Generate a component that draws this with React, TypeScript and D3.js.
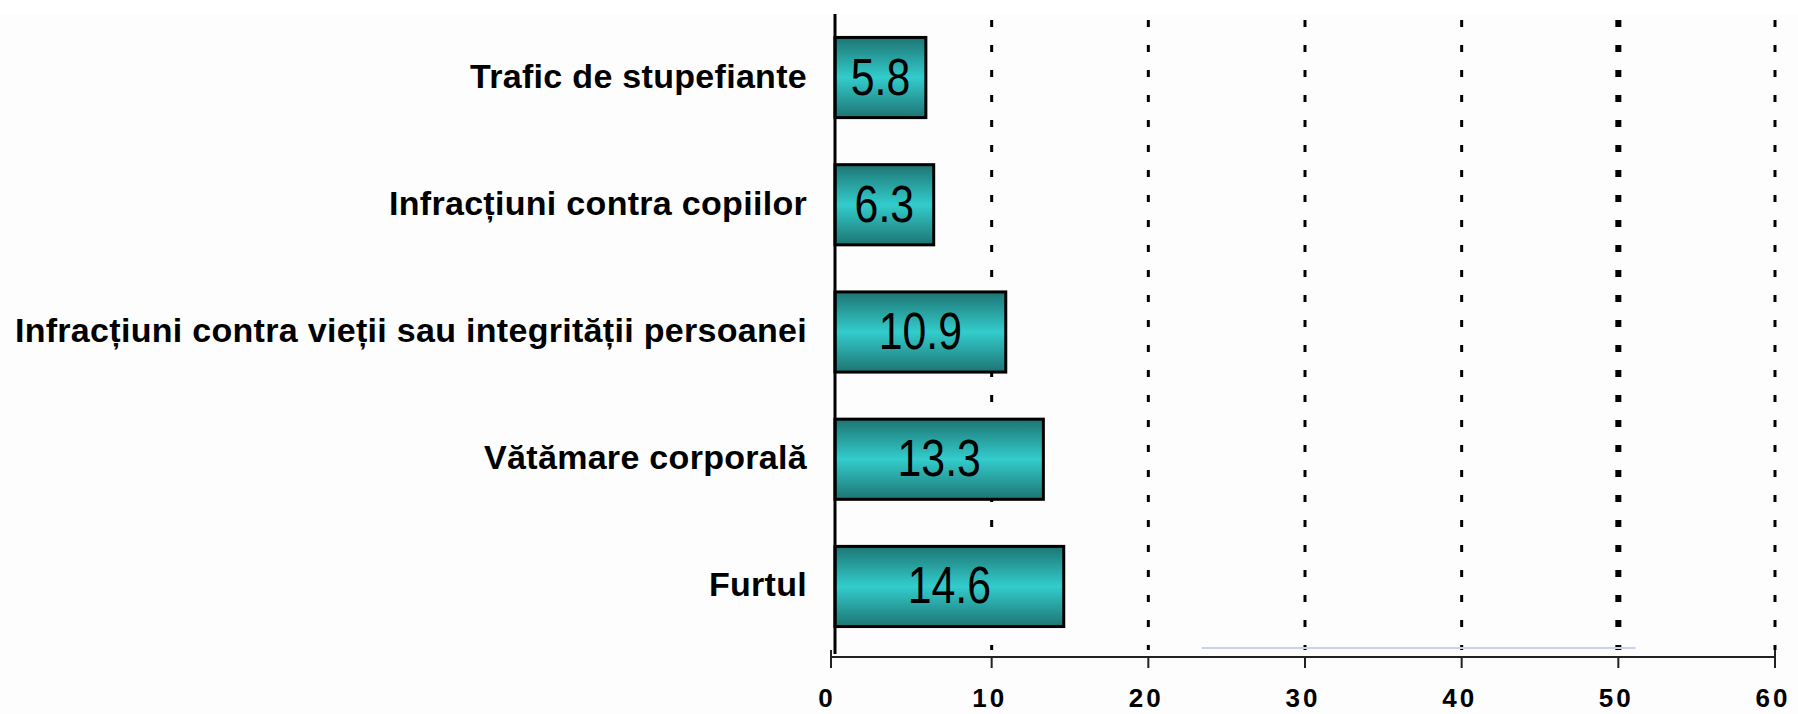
import React from 'react';
import * as d3 from 'd3';

const categories = [
    'Trafic de stupefiante',
    'Infracțiuni contra copiilor',
    'Infracțiuni contra vieții sau integrității persoanei',
    'Vătămare corporală',
    'Furtul',
];
const values = [5.8, 6.3, 10.9, 13.3, 14.6];
const xTicks = [0, 10, 20, 30, 40, 50, 60];
const gridValues = [10, 20, 30, 40, 50, 60];
// faint blue stroke that sits just above the axis in the original image
const blueStroke = [23.4, 51.1];

const width = 1798;
const height = 714;

const App: React.FC = () => {
    const x = d3.scaleLinear().domain([0, 60]).range([835, 1775]);
    const y = d3.scaleBand<string>()
        .domain(categories)
        .range([12, 652])
        .paddingInner(0.37)
        .paddingOuter(0.2);

    const axisY = 657;
    const barH = y.bandwidth();

    return (
        <>
            <style>{`body{margin:0;background:#fff}`}</style>
            <svg width={width} height={height} viewBox={`0 0 ${width} ${height}`} style={{ display: 'block' }}>
                <defs>
                    <linearGradient id="barGrad" x1="0" y1="0" x2="0" y2="1">
                        <stop offset="0%" stopColor="#1d7573" />
                        <stop offset="50%" stopColor="#33cccc" />
                        <stop offset="100%" stopColor="#1d7573" />
                    </linearGradient>
                </defs>
                <rect x={0} y={14} width={width} height={height - 14} fill="#fdfdfd" />

                {gridValues.map(v => (
                    <line key={v}
                        x1={x(v)} x2={x(v)} y1={20} y2={650}
                        stroke="#000"
                        strokeWidth={v === 50 ? 6 : 3}
                        strokeDasharray="7,18" />
                ))}

                <line x1={x(blueStroke[0])} x2={x(blueStroke[1])} y1={648} y2={648}
                    stroke="#c8d4ec" strokeWidth={2} />

                {categories.map((c, i) => {
                    const cx = (x(0) + x(values[i])) / 2;
                    const cy = y(c)! + barH / 2;
                    return (
                        <g key={c}>
                            <rect
                                x={x(0)}
                                y={y(c)!}
                                width={x(values[i]) - x(0)}
                                height={barH}
                                fill="url(#barGrad)"
                                stroke="#000"
                                strokeWidth={3} />
                            <text
                                transform={`translate(${cx},${cy + 17}) scale(0.84,1)`}
                                textAnchor="middle"
                                fontFamily="'Liberation Sans', Arial, sans-serif"
                                fontSize={51}
                                fill="#000">
                                {values[i]}
                            </text>
                            <text
                                x={807}
                                y={cy + 10}
                                textAnchor="end"
                                fontFamily="'Liberation Sans', Arial, sans-serif"
                                fontWeight="bold"
                                fontSize={34}
                                letterSpacing={0.3}
                                fill="#000">
                                {c}
                            </text>
                        </g>
                    );
                })}

                {/* y axis */}
                <line x1={x(0)} x2={x(0)} y1={14} y2={654} stroke="#000" strokeWidth={3} />

                {/* x axis */}
                <line x1={x(0) - 4} x2={x(60)} y1={axisY} y2={axisY} stroke="#222" strokeWidth={2} />
                {xTicks.map(t => (
                    <g key={t}>
                        <line x1={x(t) - (t === 0 ? 4 : 0)} x2={x(t) - (t === 0 ? 4 : 0)}
                            y1={t === 0 || t === 60 ? 650 : axisY} y2={668}
                            stroke="#222" strokeWidth={2} />
                        <text
                            x={x(t) - (t === 0 ? 8 : 2)}
                            y={707}
                            textAnchor="middle"
                            fontFamily="'Liberation Sans', Arial, sans-serif"
                            fontWeight="bold"
                            fontSize={26}
                            letterSpacing={3}
                            fill="#000">
                            {t}
                        </text>
                    </g>
                ))}
            </svg>
        </>
    );
};

export default App;
